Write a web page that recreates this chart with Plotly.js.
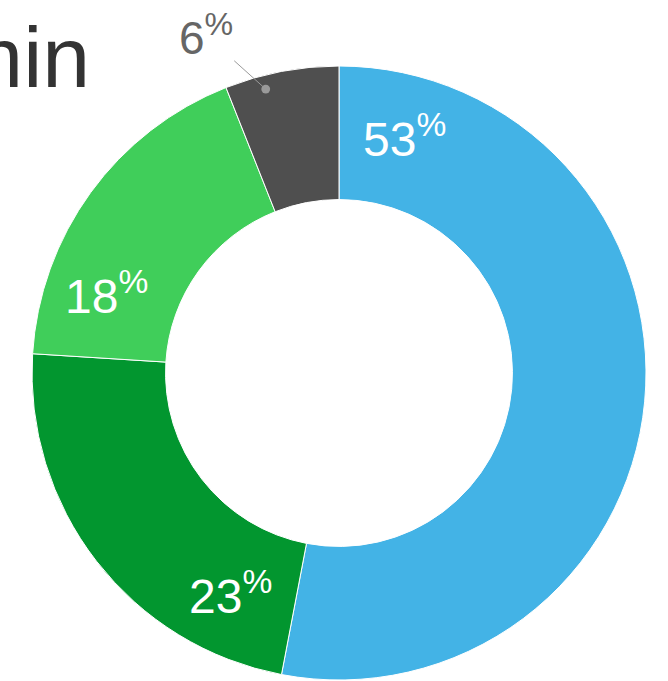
<!DOCTYPE html>
<html>
<head>
<meta charset="utf-8">
<script src="https://cdn.plot.ly/plotly-3.0.1.min.js"></script>
<style>
  html, body { margin:0; padding:0; background:#fff; }
  #chart { width:668px; height:681px; }
</style>
</head>
<body>
<div id="chart"></div>
<script>
// Share by segment (clockwise from 12 o'clock)
const labels = ['Segment A', 'Segment B', 'Segment C', 'Segment D'];
const values = [53, 23, 18, 6];
const colors = ['#43b3e6', '#02962f', '#40ce5a', '#4f4f4f'];
const titleText = 'Admin';

(function () {
  'use strict';

  const total = values.reduce((a, b) => a + b, 0);
  const rad = d => d * Math.PI / 180;

  // pie domain is the whole plot area, so centre = (0.5,0.5), radius = 0.5 in paper units
  const pt = (deg, rho) => ({
    x: 0.5 + 0.5 * rho * Math.sin(rad(deg)),
    y: 0.5 + 0.5 * rho * Math.cos(rad(deg))
  });

  const annotations = [];
  let acc = 0;
  values.forEach((v, i) => {
    const start = acc / total * 360;
    const span = v / total * 360;
    acc += v;
    const txt = v + '<sup>%</sup>';
    if (span > 40) {
      // label sits just past the start of the slice, mid-ring
      const p = pt(start + 15.5, 0.8);
      annotations.push({
        x: p.x, y: p.y, xref: 'paper', yref: 'paper',
        xanchor: 'center', yanchor: 'middle',
        text: txt, showarrow: false,
        font: { family: 'Liberation Sans, Arial, sans-serif', size: 48, color: '#ffffff' }
      });
    } else {
      // small slice: label outside with a leader line
      const p = pt(start + span * 0.33, 0.955);
      annotations.push({
        x: p.x, y: p.y, xref: 'paper', yref: 'paper',
        text: txt, showarrow: true, ax: -60, ay: -54,
        arrowcolor: '#9a9a9a', arrowwidth: 1, arrowhead: 6, arrowsize: 2.2,
        font: { family: 'Liberation Sans, Arial, sans-serif', size: 46, color: '#666666' }
      });
    }
  });

  const trace = {
    type: 'pie',
    labels: labels,
    values: values,
    hole: 0.565,
    sort: false,
    direction: 'clockwise',
    rotation: 0,
    textinfo: 'none',
    hoverinfo: 'label+percent',
    marker: { colors: colors, line: { color: '#ffffff', width: 1 } },
    showlegend: false
  };

  Plotly.newPlot('chart', [trace], {
    width: 668, height: 681,
    margin: { l: 32, r: 22, t: 66, b: 1 },
    paper_bgcolor: '#ffffff',
    title: {
      text: titleText,
      font: { family: 'Liberation Sans, Arial, sans-serif', size: 86, color: '#333333' },
      xref: 'container', yref: 'container',
      x: 0.135, xanchor: 'right',
      y: 0.961, yanchor: 'top'
    },
    annotations: annotations
  }, { displayModeBar: false, staticPlot: true });
})();
</script>
</body>
</html>
